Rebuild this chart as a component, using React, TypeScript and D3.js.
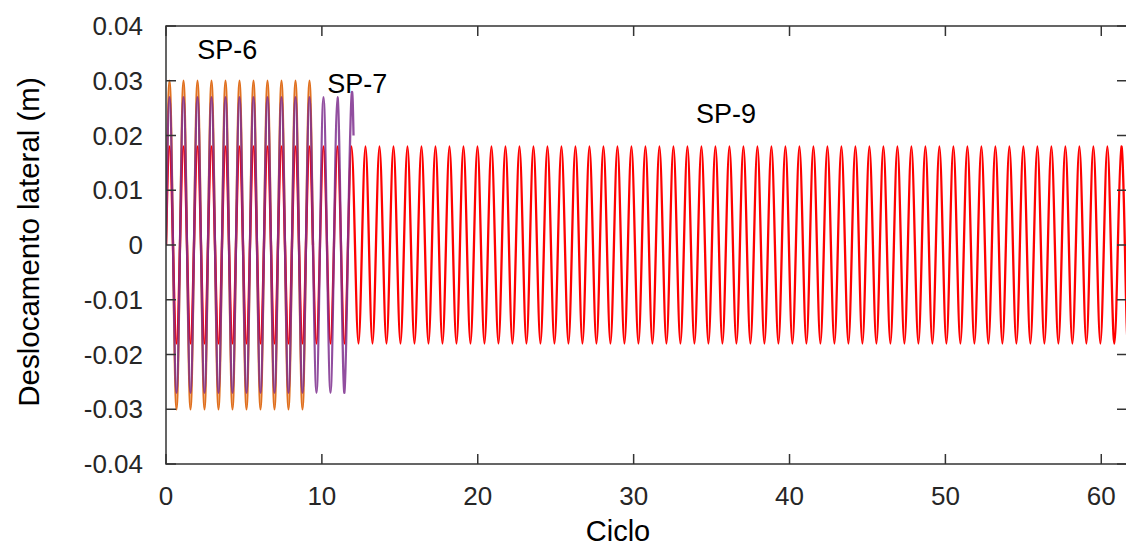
import React from "react";
import * as d3 from "d3";

// ---- data ----
const seriesLabels = ["SP-6", "SP-7", "SP-9"];
const seriesColors = ["#E0701F", "#7E2F8E", "#FF0000"];
const seriesAmplitude = [0.03, 0.027, 0.018]; // peak lateral displacement (m)
const seriesQuarterCycles = [42, 53, 276]; // number of quarter cycles drawn
const seriesTail = [null, [12.03, 0.02], [61.8, -0.0175]]; // final partial point [x, y]
const cyclePeriod = 0.898; // x-units per loading cycle
const quarterPattern = [0, 1, 0, -1];
const drawOrder = [0, 2, 1]; // SP-6 below, SP-9, SP-7 on top

const xTicks = [0, 10, 20, 30, 40, 50, 60];
const yTicks = [-0.04, -0.03, -0.02, -0.01, 0, 0.01, 0.02, 0.03, 0.04];
const yTickLabels = ["-0.04", "-0.03", "-0.02", "-0.01", "0", "0.01", "0.02", "0.03", "0.04"];

const annoLabels = ["SP-6", "SP-7", "SP-9"];
const annoX = [2.0, 10.35, 34.0];
const annoY = [0.034, 0.0278, 0.0223];

const xDomain = [0, 61.65];
const yDomain = [-0.04, 0.04];

const W = 1126;
const H = 546;
const M = { left: 166, right: 1127, top: 26, bottom: 464 };
const FONT = "'Liberation Sans', Arial, Helvetica, sans-serif";
const AXIS = "#333333";
const TEXT = "#262626";

function buildSeries(i: number): [number, number][] {
  const pts: [number, number][] = [];
  const A = seriesAmplitude[i];
  for (let q = 0; q <= seriesQuarterCycles[i]; q++) {
    pts.push([(q * cyclePeriod) / 4, quarterPattern[q % 4] * A]);
  }
  const t = seriesTail[i];
  if (t) pts.push([t[0], t[1]]);
  return pts;
}

export default function App() {
  const x = d3.scaleLinear().domain(xDomain).range([M.left, M.right]);
  const y = d3.scaleLinear().domain(yDomain).range([M.bottom, M.top]);
  const line = d3
    .line<[number, number]>()
    .x((d) => x(d[0]))
    .y((d) => y(d[1]))
    .curve(d3.curveNatural);

  const tickLen = 10;

  return (
    <svg
      width={W}
      height={H}
      style={{ position: "absolute", left: 0, top: 0, background: "#fff" }}
      fontFamily={FONT}
    >
      <defs>
        <clipPath id="plotclip">
          <rect x={M.left} y={M.top - 5} width={M.right - M.left} height={M.bottom - M.top + 10} />
        </clipPath>
      </defs>

      <g clipPath="url(#plotclip)" fill="none" strokeWidth={2.3} strokeLinejoin="round">
        {drawOrder.map((i) => (
          <path
            key={seriesLabels[i]}
            d={line(buildSeries(i)) || ""}
            stroke={seriesColors[i]}
            strokeOpacity={i === 1 ? 0.85 : 1}
          />
        ))}
      </g>

      {/* box */}
      <rect
        x={M.left}
        y={M.top}
        width={M.right - M.left}
        height={M.bottom - M.top}
        fill="none"
        stroke={AXIS}
        strokeWidth={1.5}
      />

      {/* x ticks (bottom and top, inward) */}
      {xTicks.map((t) => (
        <g key={"x" + t}>
          <line x1={x(t)} x2={x(t)} y1={M.bottom} y2={M.bottom - tickLen} stroke={AXIS} strokeWidth={1.5} />
          <line x1={x(t)} x2={x(t)} y1={M.top} y2={M.top + tickLen} stroke={AXIS} strokeWidth={1.5} />
          <text x={x(t)} y={M.bottom + 41} textAnchor="middle" fontSize={26} fill={TEXT}>
            {t}
          </text>
        </g>
      ))}

      {/* y ticks (left and right, inward) */}
      {yTicks.map((t, i) => (
        <g key={"y" + t}>
          <line x1={M.left} x2={M.left + tickLen} y1={y(t)} y2={y(t)} stroke={AXIS} strokeWidth={1.5} />
          <line x1={M.right} x2={M.right - tickLen} y1={y(t)} y2={y(t)} stroke={AXIS} strokeWidth={1.5} />
          <text x={M.left - 23} y={y(t)} dy="0.35em" textAnchor="end" fontSize={26} fill={TEXT}>
            {yTickLabels[i]}
          </text>
        </g>
      ))}

      {/* annotations */}
      {annoLabels.map((a, i) => (
        <text key={a} x={x(annoX[i])} y={y(annoY[i])} fontSize={27} fill="#000">
          {a}
        </text>
      ))}

      {/* axis titles */}
      <text x={618} y={541} textAnchor="middle" fontSize={29} fill="#000">
        Ciclo
      </text>
      <text
        transform={`translate(39, 242) rotate(-90)`}
        textAnchor="middle"
        fontSize={29.5}
        fill="#000"
      >
        Deslocamento lateral (m)
      </text>
    </svg>
  );
}
